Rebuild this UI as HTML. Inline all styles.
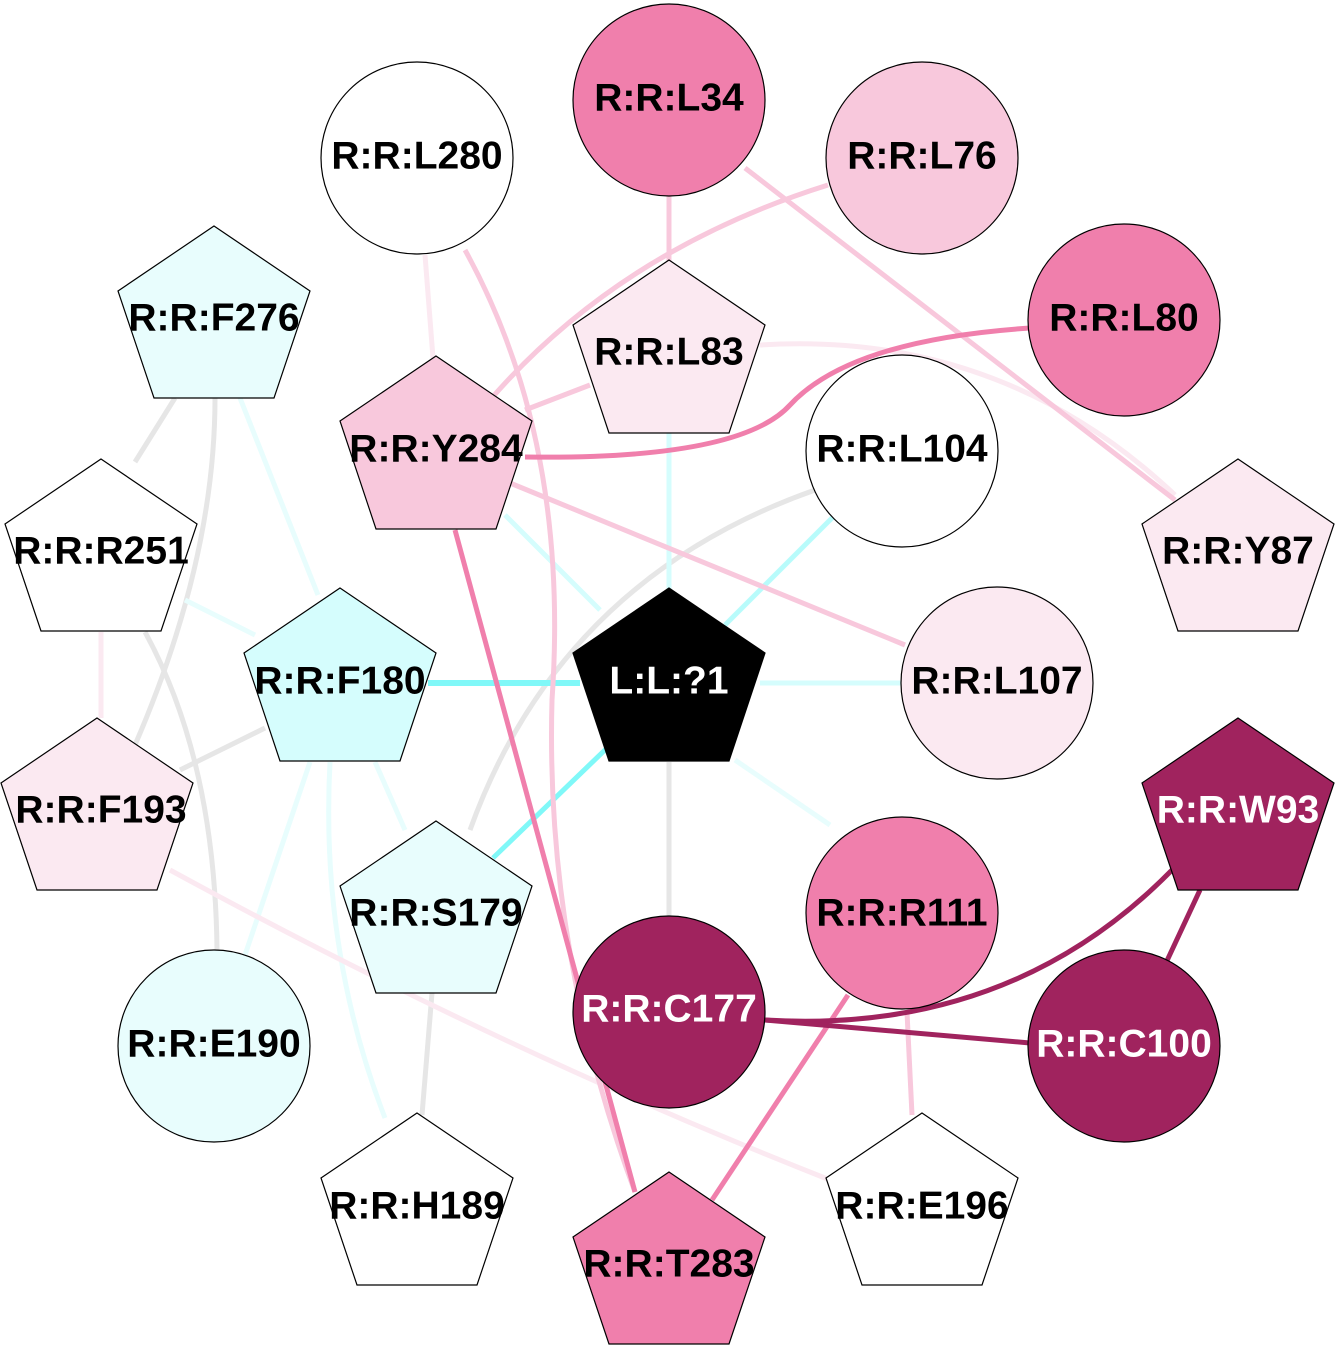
<!DOCTYPE html>
<html><head><meta charset="utf-8"><style>
html,body{margin:0;padding:0;background:#fff;}
svg{display:block;}
text{font-family:"Liberation Sans",sans-serif;font-weight:bold;font-size:39px;text-anchor:middle;dominant-baseline:central;}
</style></head><body>
<svg width="1338" height="1368" viewBox="0 0 1338 1368" xmlns="http://www.w3.org/2000/svg">
<g fill="none" stroke-width="5">
<path d="M175,398 L135,462" stroke="#e6e6e6"/>
<path d="M145,632 Q215,760 217,950" stroke="#e6e6e6"/>
<path d="M215,398 Q215,560 135,745" stroke="#e6e6e6"/>
<path d="M815,490 Q560,580 470,830" stroke="#e6e6e6"/>
<path d="M265,728 L180,770" stroke="#e6e6e6"/>
<path d="M432,993 L422,1115" stroke="#e6e6e6"/>
<path d="M669,762 L669,918" stroke="#e6e6e6"/>
<path d="M669,433 L669,590" stroke="#d5fdfd"/>
<path d="M505,515 L600,610" stroke="#d5fdfd"/>
<path d="M240,398 L318,595" stroke="#e8fdfd"/>
<path d="M185,600 L255,635" stroke="#e8fdfd"/>
<path d="M760,683 L905,683" stroke="#d5fdfd"/>
<path d="M375,762 L405,830" stroke="#e8fdfd"/>
<path d="M310,762 L245,955" stroke="#e8fdfd"/>
<path d="M330,762 Q320,950 385,1118" stroke="#e8fdfd"/>
<path d="M735,760 L830,825" stroke="#e8fdfd"/>
<path d="M835,515 L725,625" stroke="#b8fbfb"/>
<path d="M428,683 L580,683" stroke="#80f8f8" stroke-width="6"/>
<path d="M493,858 L607,748" stroke="#80f8f8"/>
<path d="M425,255 L433,358" stroke="#fbe9f1"/>
<path d="M101,632 L101,718" stroke="#fbe9f1"/>
<path d="M170,870 Q500,1050 830,1180" stroke="#fbe9f1"/>
<path d="M760,345 Q1000,330 1175,495" stroke="#fbe9f1"/>
<path d="M669,196 L669,262" stroke="#f8c8dc"/>
<path d="M745,168 L1175,500" stroke="#f8c8dc"/>
<path d="M828,185 Q620,250 490,400" stroke="#f8c8dc"/>
<path d="M465,250 Q570,440 552,700 Q545,950 635,1192" stroke="#f8c8dc"/>
<path d="M590,385 L525,410" stroke="#f8c8dc"/>
<path d="M510,483 L905,645" stroke="#f8c8dc"/>
<path d="M907,1012 L912,1115" stroke="#f8c8dc"/>
<path d="M1030,328 Q850,340 790,405 Q740,460 525,457" stroke="#f07fac"/>
<path d="M455,530 L635,1192" stroke="#f07fac"/>
<path d="M848,995 L712,1200" stroke="#f07fac"/>
<path d="M1172,870 Q1010,1035 765,1020" stroke="#a0235e"/>
<path d="M1200,890 L1165,965" stroke="#a0235e"/>
<path d="M765,1020 L1030,1043" stroke="#a0235e"/>
</g>
<g stroke="#000" stroke-width="1.2">
<circle cx="669" cy="100" r="96" fill="#f07fac"/>
<circle cx="922" cy="158" r="96" fill="#f8c8dc"/>
<circle cx="417" cy="158" r="96" fill="#fff"/>
<circle cx="1124" cy="320" r="96" fill="#f07fac"/>
<circle cx="902" cy="451" r="96" fill="#fff"/>
<circle cx="997" cy="683" r="96" fill="#fbe9f1"/>
<circle cx="902" cy="913" r="96" fill="#f07fac"/>
<circle cx="669" cy="1012" r="96" fill="#a0235e"/>
<circle cx="1124" cy="1046" r="96" fill="#a0235e"/>
<circle cx="214" cy="1046" r="96" fill="#e8fdfd"/>
<polygon points="214,226 310,291 274,398 154,398 118,291" fill="#e8fdfd"/>
<polygon points="669,260 765,325 729,433 609,433 573,325" fill="#fbe9f1"/>
<polygon points="436,356 532,421 496,529 376,529 340,421" fill="#f8c8dc"/>
<polygon points="1238,459 1334,524 1298,631 1178,631 1142,524" fill="#fbe9f1"/>
<polygon points="101,459 197,524 161,631 41,631 5,524" fill="#fff"/>
<polygon points="340,588 436,653 400,761 280,761 244,653" fill="#d5fdfd"/>
<polygon points="669,588 765,653 729,761 609,761 573,653" fill="#000"/>
<polygon points="97,718 193,783 157,890 37,890 1,783" fill="#fbe9f1"/>
<polygon points="1238,718 1334,783 1298,890 1178,890 1142,783" fill="#a0235e"/>
<polygon points="436,821 532,886 496,993 376,993 340,886" fill="#e8fdfd"/>
<polygon points="417,1113 513,1178 477,1285 357,1285 321,1178" fill="#fff"/>
<polygon points="922,1113 1018,1178 982,1285 862,1285 826,1178" fill="#fff"/>
<polygon points="669,1172 765,1237 729,1344 609,1344 573,1237" fill="#f07fac"/>
</g>
<g fill="#000">
<text x="669" y="98">R:R:L34</text>
<text x="922" y="156">R:R:L76</text>
<text x="417" y="156">R:R:L280</text>
<text x="1124" y="318">R:R:L80</text>
<text x="214" y="318">R:R:F276</text>
<text x="669" y="352">R:R:L83</text>
<text x="436" y="449">R:R:Y284</text>
<text x="902" y="449">R:R:L104</text>
<text x="1238" y="551">R:R:Y87</text>
<text x="101" y="551">R:R:R251</text>
<text x="340" y="681">R:R:F180</text>
<text x="997" y="681">R:R:L107</text>
<text x="101" y="810">R:R:F193</text>
<text x="436" y="913">R:R:S179</text>
<text x="902" y="913">R:R:R111</text>
<text x="214" y="1044">R:R:E190</text>
<text x="417" y="1206">R:R:H189</text>
<text x="922" y="1206">R:R:E196</text>
<text x="669" y="1264">R:R:T283</text>
</g>
<g fill="#fff">
<text x="669" y="681">L:L:?1</text>
<text x="1238" y="810">R:R:W93</text>
<text x="669" y="1009">R:R:C177</text>
<text x="1124" y="1044">R:R:C100</text>
</g>
</svg>
</body></html>
